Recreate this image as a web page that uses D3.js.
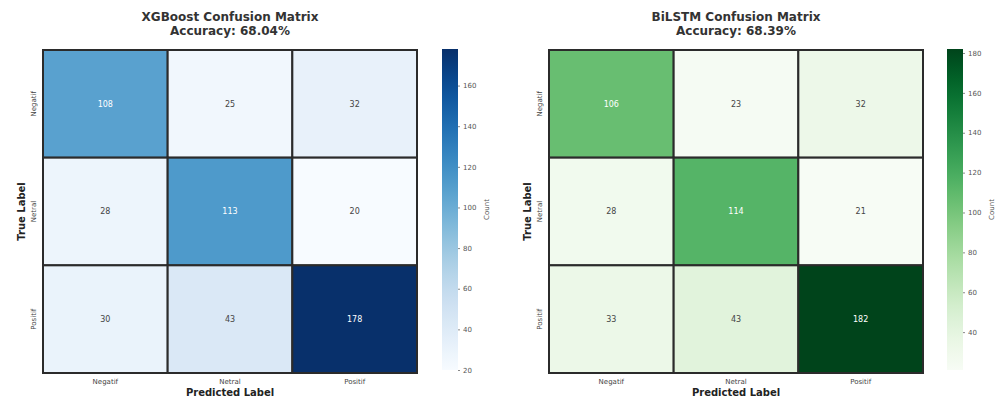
<!DOCTYPE html>
<html>
<head>
<meta charset="utf-8">
<script src="https://cdn.jsdelivr.net/npm/d3@7"></script>
<style>
  body { margin: 0; background: #fff; }
  svg { font-family: "DejaVu Sans", sans-serif; display: block; }
</style>
</head>
<body>
<div id="chart"></div>
<script>
// Data
const labels = ["Negatif", "Netral", "Positif"];
const xgbMatrix = [
  [108, 25, 32],
  [28, 113, 20],
  [30, 43, 178]
];
const lstmMatrix = [
  [106, 23, 32],
  [28, 114, 21],
  [33, 43, 182]
];
const titles = ["XGBoost Confusion Matrix", "BiLSTM Confusion Matrix"];
const accuracies = ["68.04%", "68.39%"];

const width = 1001;
const height = 407;

const svg = d3.select("#chart")
  .append("svg")
  .attr("width", width)
  .attr("height", height);

const defs = svg.append("defs");

const panels = [
  { matrix: xgbMatrix, interp: d3.interpolateBlues, x0: 43, x1: 417, cbx: 442, id: "gradBlue" },
  { matrix: lstmMatrix, interp: d3.interpolateGreens, x0: 549, x1: 923, cbx: 947, id: "gradGreen" }
];
const plotTop = 50, plotBottom = 373;

panels.forEach((p, pi) => {
  const g = svg.append("g");
  const flat = p.matrix.flat();
  const vmin = d3.min(flat), vmax = d3.max(flat);
  const color = d3.scaleSequential(p.interp).domain([vmin, vmax]);

  const x = d3.scaleBand().domain(labels).range([p.x0, p.x1]);
  const y = d3.scaleBand().domain(labels).range([plotTop, plotBottom]);

  // Cells
  const cells = [];
  p.matrix.forEach((row, i) => row.forEach((v, j) => cells.push({ t: labels[i], p: labels[j], v })));

  g.selectAll("rect.cell")
    .data(cells)
    .enter()
    .append("rect")
    .attr("class", "cell")
    .attr("x", d => x(d.p))
    .attr("y", d => y(d.t))
    .attr("width", x.bandwidth())
    .attr("height", y.bandwidth())
    .attr("fill", d => color(d.v))
    .attr("stroke", "#2b2b2b")
    .attr("stroke-width", 2);

  g.selectAll("text.val")
    .data(cells)
    .enter()
    .append("text")
    .attr("x", d => x(d.p) + x.bandwidth() / 2)
    .attr("y", d => y(d.t) + y.bandwidth() / 2)
    .attr("dy", "0.35em")
    .attr("text-anchor", "middle")
    .style("font-size", "8px")
    .style("fill", d => (d.v - vmin) / (vmax - vmin) > 0.5 ? "#ffffff" : "#444")
    .text(d => d.v);

  // Tick labels
  g.selectAll("text.xt")
    .data(labels)
    .enter()
    .append("text")
    .attr("x", d => x(d) + x.bandwidth() / 2)
    .attr("y", plotBottom + 11)
    .attr("text-anchor", "middle")
    .style("font-size", "7px")
    .style("fill", "#444")
    .text(d => d);

  g.selectAll("text.yt")
    .data(labels)
    .enter()
    .append("text")
    .attr("transform", d => `translate(${p.x0 - 7}, ${y(d) + y.bandwidth() / 2}) rotate(-90)`)
    .attr("text-anchor", "middle")
    .style("font-size", "7px")
    .style("fill", "#444")
    .text(d => d);

  // Axis titles
  g.append("text")
    .attr("x", (p.x0 + p.x1) / 2)
    .attr("y", plotBottom + 23)
    .attr("text-anchor", "middle")
    .style("font-size", "10px")
    .style("font-weight", "bold")
    .style("fill", "#222")
    .text("Predicted Label");

  g.append("text")
    .attr("transform", `translate(${p.x0 - 18}, ${(plotTop + plotBottom) / 2}) rotate(-90)`)
    .attr("text-anchor", "middle")
    .style("font-size", "10px")
    .style("font-weight", "bold")
    .style("fill", "#222")
    .text("True Label");

  // Title
  g.append("text")
    .attr("x", (p.x0 + p.x1) / 2)
    .attr("y", 21)
    .attr("text-anchor", "middle")
    .style("font-size", "12px")
    .style("font-weight", "bold")
    .style("fill", "#333")
    .text(titles[pi]);
  g.append("text")
    .attr("x", (p.x0 + p.x1) / 2)
    .attr("y", 35)
    .attr("text-anchor", "middle")
    .style("font-size", "12px")
    .style("font-weight", "bold")
    .style("fill", "#333")
    .text("Accuracy: " + accuracies[pi]);

  // Colorbar
  const grad = defs.append("linearGradient")
    .attr("id", p.id)
    .attr("x1", 0).attr("y1", 1).attr("x2", 0).attr("y2", 0);
  d3.range(0, 1.0001, 0.05).forEach(t => {
    grad.append("stop").attr("offset", t).attr("stop-color", p.interp(t));
  });
  const cbTop = 49, cbBottom = 370, cbW = 16;
  g.append("rect")
    .attr("x", p.cbx)
    .attr("y", cbTop)
    .attr("width", cbW)
    .attr("height", cbBottom - cbTop)
    .attr("fill", `url(#${p.id})`);

  const cbScale = d3.scaleLinear().domain([vmin, vmax]).range([cbBottom, cbTop]);
  const cbAxis = g.append("g")
    .attr("transform", `translate(${p.cbx + cbW}, 0)`)
    .call(d3.axisRight(cbScale).ticks(8).tickSize(2).tickPadding(3));
  cbAxis.select(".domain").remove();
  cbAxis.selectAll("line").attr("stroke", "#888");
  cbAxis.selectAll("text").style("font-size", "7px").style("fill", "#555")
    .style("font-family", "DejaVu Sans, sans-serif");

  g.append("text")
    .attr("transform", `translate(${p.cbx + 47}, ${(cbTop + cbBottom) / 2}) rotate(-90)`)
    .attr("text-anchor", "middle")
    .style("font-size", "7px")
    .style("fill", "#555")
    .text("Count");
});
</script>
</body>
</html>
